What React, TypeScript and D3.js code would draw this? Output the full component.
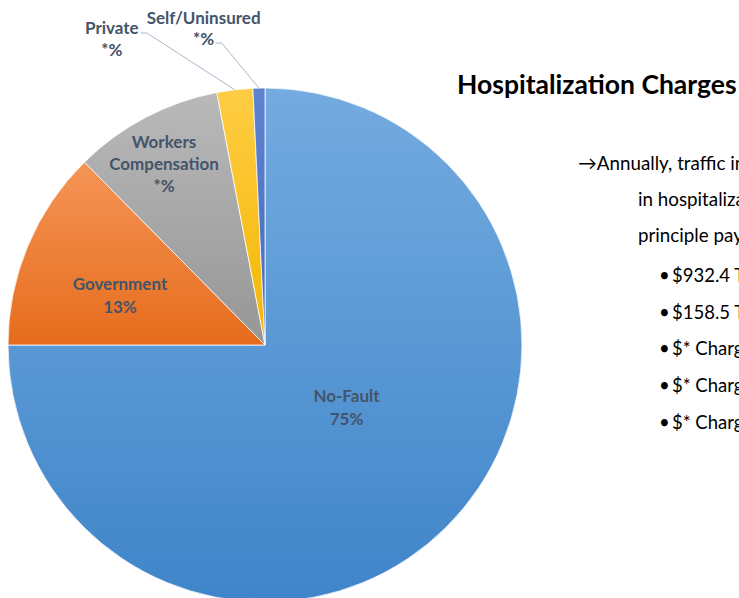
import React from 'react';
import * as d3 from 'd3';

// payer mix of hospitalization charges
const payers = ['No-Fault', 'Government', 'Workers Compensation', 'Private', 'Self/Uninsured'];
const shares = [75, 12.6, 9.4, 2.25, 0.75];
const shareLabels = ['75%', '13%', '*%', '*%', '*%'];
const labelLines = [['No-Fault'], ['Government'], ['Workers', 'Compensation'], ['Private'], ['Self/Uninsured']];

const titleText = 'Hospitalization Charges';
const introLines = [
  '\u2192Annually, traffic injuries result',
  'in hospitalization charges, by',
  'principle payer:'
];
const bulletLines = [
  '$932.4 Thousand No-Fault',
  '$158.5 Thousand Government',
  '$* Charged to Workers Comp',
  '$* Charged to Private',
  '$* Charged to Self/Uninsured'
];

const gradients = [
  ['#74abe0', '#3f85c9'],
  ['#f59557', '#e66c1c'],
  ['#b9b9b9', '#969696'],
  ['#ffcd45', '#f4b600'],
  ['#5e83cf', '#4569bd']
];

const W = 739;
const H = 598;
const cx = 265;
const cy = 345;
const R = 257;
const labelColor = '#44546a';
const font = 'Lato, "Open Sans", sans-serif';

// label anchor (polar: angle offset in deg from slice mid, radius) + callout info
const labelLayout = [
  { r: 101, rot: -8.8, first: 402, gap: 23 },
  { r: 152, rot: -5.3, first: 290, gap: 23 },
  { r: 190, rot: -4.4, first: 148, gap: 22 },
  { r: 350, rot: -19.2, first: 34, gap: 22, callout: { dx: 29, dy: -1 } },
  { r: 332, rot: -9.3, first: 24, gap: 21, callout: { dx: 12, dy: 19 } }
];

const App = () => {
  const pie = d3.pie<number>().sort(null).value(d => d);
  const arcs = pie(shares);
  const arc = d3.arc<d3.PieArcDatum<number>>().innerRadius(0).outerRadius(R);

  return (
    <svg width={W} height={H} style={{ position: 'absolute', left: 0, top: 0, background: '#fff' }}>
      <defs>
        {gradients.map((g, i) => (
          <linearGradient key={i} id={`grad${i}`} x1="0" y1="0" x2="0" y2="1">
            <stop offset="0%" stopColor={g[0]} />
            <stop offset="100%" stopColor={g[1]} />
          </linearGradient>
        ))}
      </defs>
      <g transform={`translate(${cx},${cy})`}>
        {arcs.map((a, i) => (
          <path key={i} d={arc(a) || ''} fill={`url(#grad${i})`} stroke="#fff" strokeWidth={0.75} />
        ))}
        {arcs.map((a, i) => {
          const lay = labelLayout[i];
          const mid = (a.startAngle + a.endAngle) / 2;
          const ang = mid + (lay.rot * Math.PI) / 180;
          const lx = Math.sin(ang) * lay.r;
          const lines = [...labelLines[i], shareLabels[i]];
          const y0 = lay.first - cy;
          let leader: React.ReactNode = null;
          if (lay.callout) {
            const ex = Math.sin(mid) * R;
            const ey = -Math.cos(mid) * R;
            const sx = lx + lay.callout.dx;
            const sy = y0 + lay.callout.dy;
            leader = (
              <polyline
                points={`${sx},${sy} ${sx + 6},${sy} ${ex},${ey}`}
                fill="none"
                stroke="#a9b7ca"
                strokeWidth={1}
              />
            );
          }
          return (
            <g key={`l${i}`}>
              {leader}
              {lines.map((t, k) => (
                <text
                  key={k}
                  x={lx}
                  y={y0 + k * lay.gap}
                  textAnchor="middle"
                  fill={labelColor}
                  fontFamily={font}
                  fontWeight={700}
                  fontSize={17}
                >
                  {t}
                </text>
              ))}
            </g>
          );
        })}
      </g>
      <text x={457} y={94} fontFamily={font} fontWeight={700} fontSize={26.5} fill="#000">
        {titleText}
      </text>
      {introLines.map((t, i) => (
        <text key={i} x={i === 0 ? 578 : 638} y={170 + i * 36} fontFamily={font} fontSize={18.8} fill="#000">
          {t}
        </text>
      ))}
      {bulletLines.map((t, i) => (
        <g key={i}>
          <text x={659} y={282 + i * 36.7} fontFamily={font} fontSize={18.5} fill="#000">{'\u2022'}</text>
          <text x={672} y={282 + i * 36.7} fontFamily={font} fontSize={18.5} fill="#000">{t}</text>
        </g>
      ))}
    </svg>
  );
};

export default App;
